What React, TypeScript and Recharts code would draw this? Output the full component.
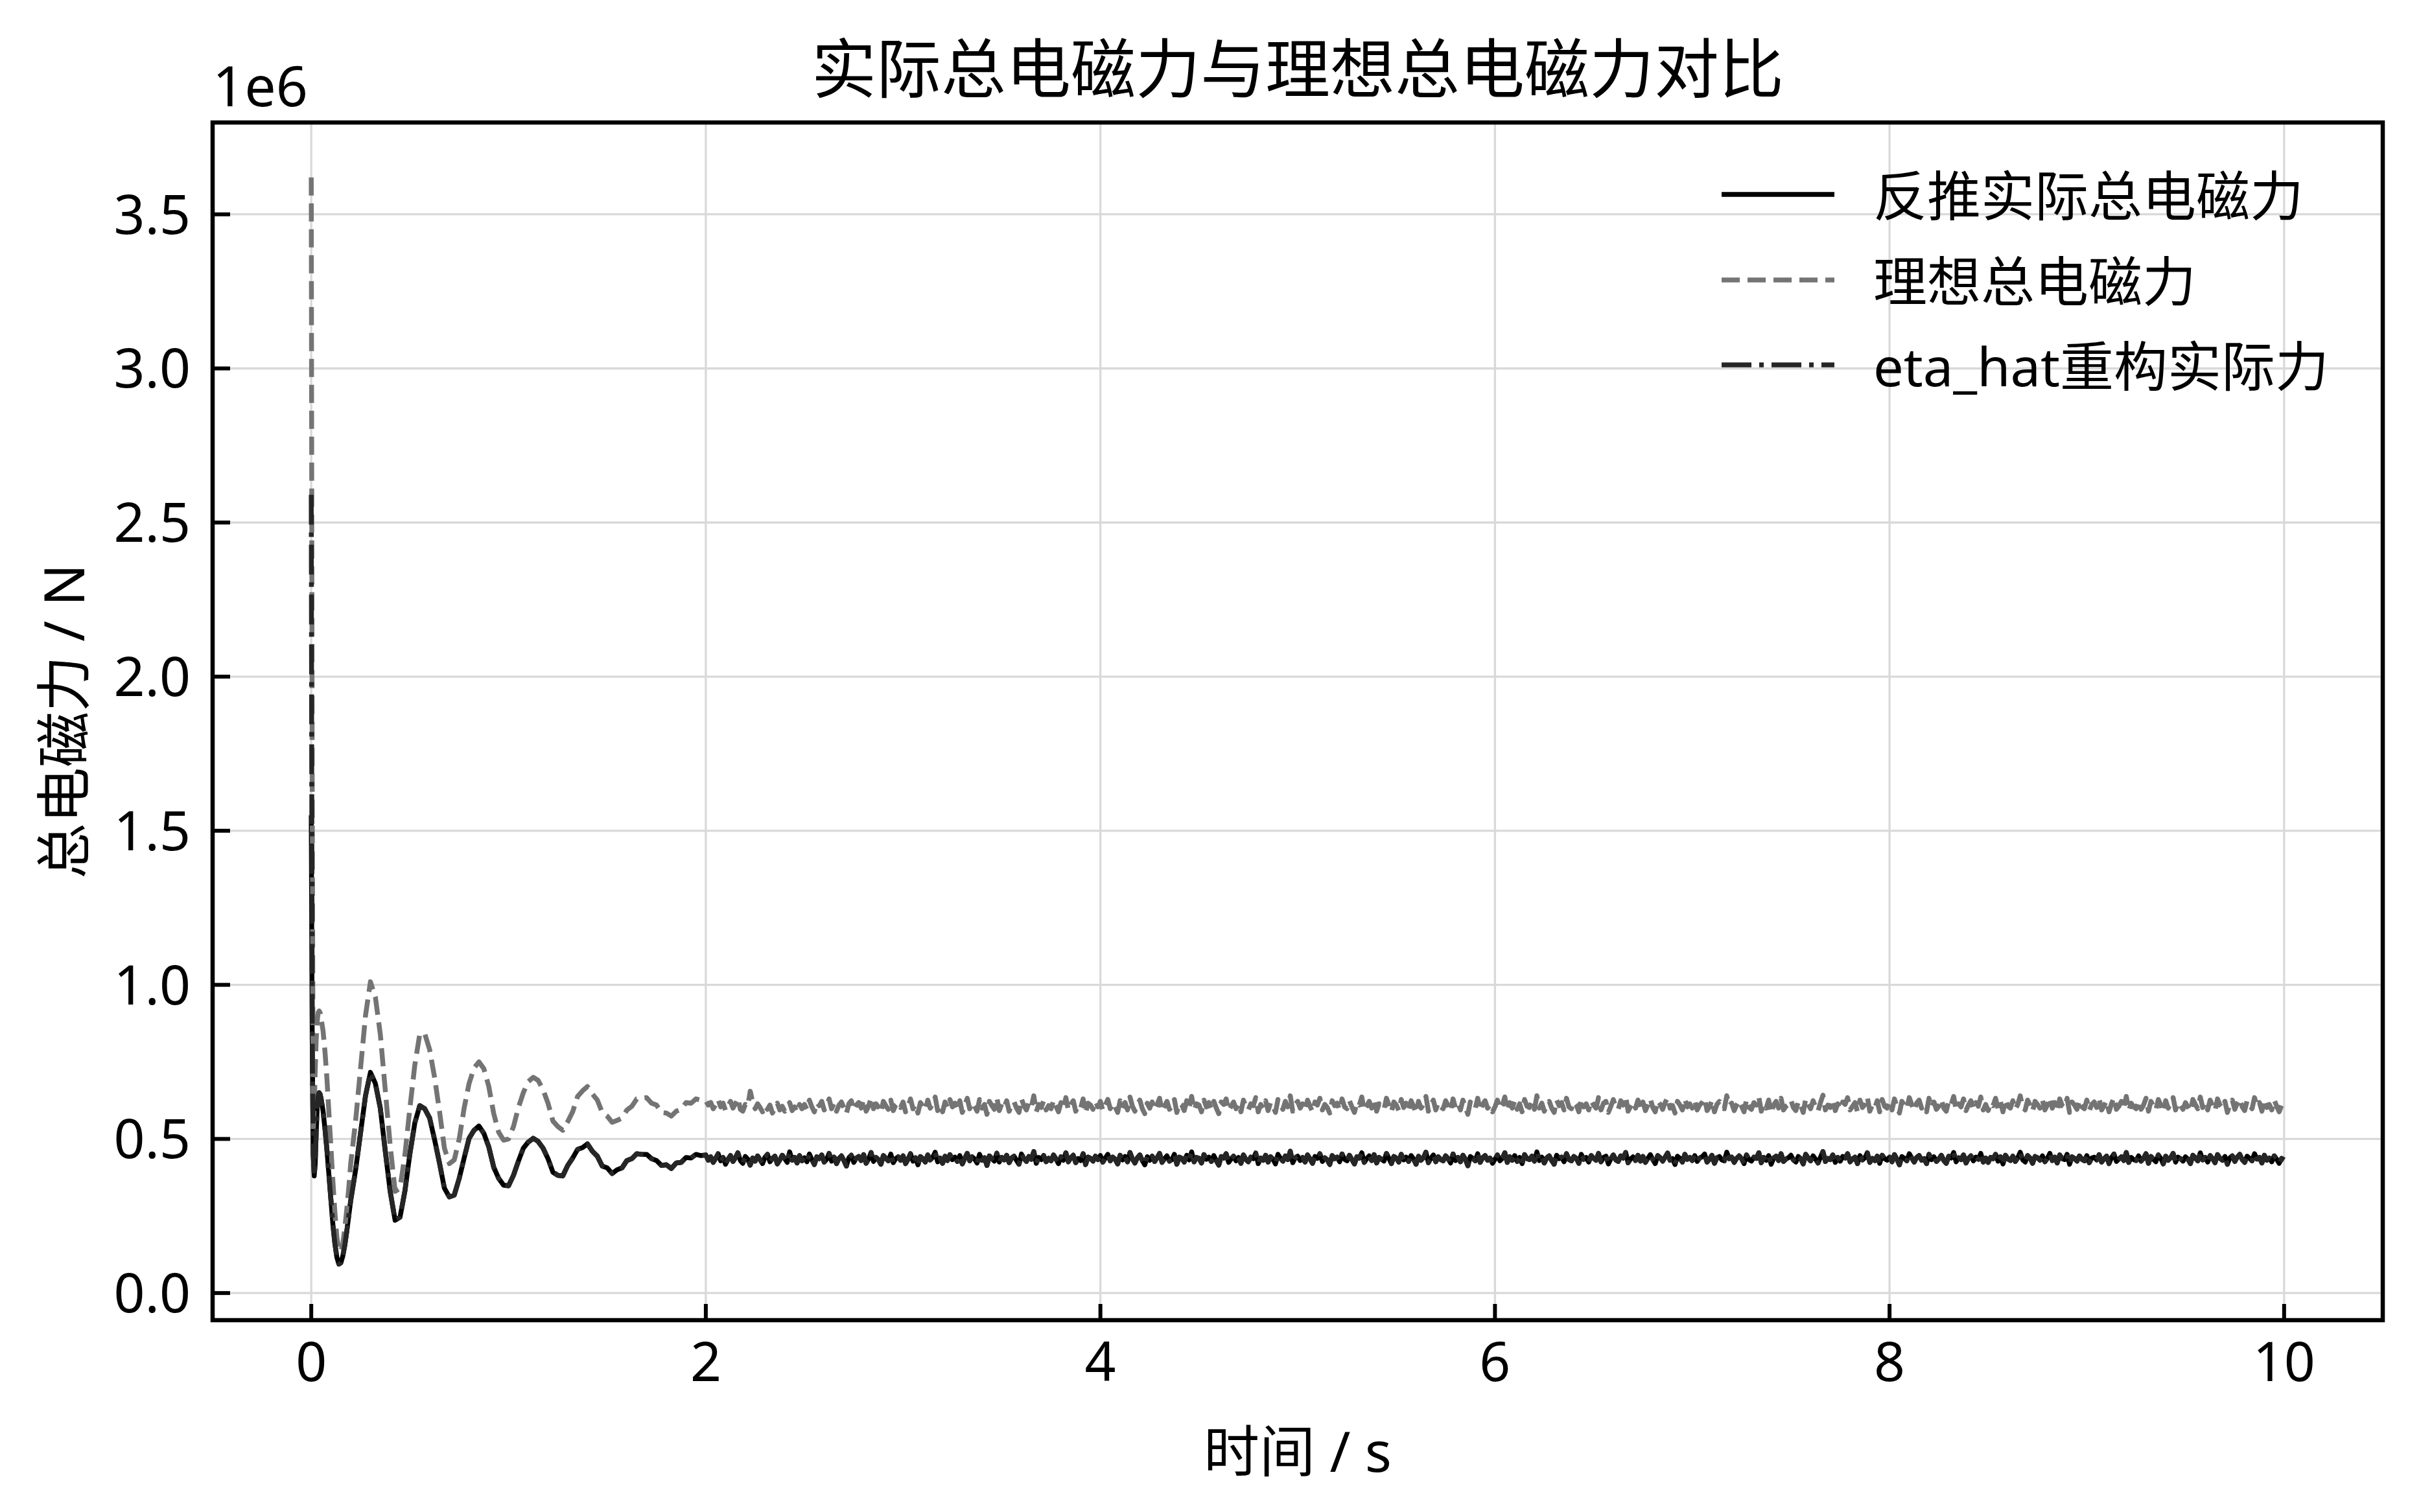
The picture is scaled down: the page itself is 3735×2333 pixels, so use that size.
import { LineChart, Line, XAxis, YAxis, CartesianGrid, ReferenceArea } from "recharts"

const FONT = "'Noto Sans', 'Noto Sans CJK SC', sans-serif"

const chartTitle = "实际总电磁力与理想总电磁力对比"
const xAxisLabel = "时间 / s"
const yAxisLabel = "总电磁力 / N"
const yScaleLabel = "1e6"

const xTicks = [0, 2, 4, 6, 8, 10]
const yTicks = [0, 0.5, 1, 1.5, 2, 2.5, 3, 3.5]
const xDomain = [-0.5, 10.5]
const yDomain = [-0.088, 3.798]

// first 0.2 s, read finer around the switch-on spike (values in kN)
const startupTime = [
  0, 0.005, 0.01, 0.015, 0.02, 0.025, 0.03, 0.035, 0.04, 0.045, 0.05, 0.06, 0.07,
  0.08, 0.09, 0.1, 0.11, 0.12, 0.13, 0.14, 0.15, 0.16, 0.17, 0.18, 0.19,
]
const actualStartup = [
  1550, 820, 450, 380, 420, 520, 600, 640, 650, 645, 630, 590, 530,
  460, 380, 300, 220, 160, 115, 94, 98, 120, 155, 200, 250,
]
const idealStartup = [
  3620, 1600, 520, 600, 720, 820, 880, 910, 915, 910, 890, 850, 780,
  690, 580, 470, 360, 260, 180, 140, 135, 160, 210, 270, 340,
]
const etaHatStartup = [
  2590, 820, 450, 380, 420, 520, 600, 640, 650, 645, 630, 590, 530,
  460, 380, 300, 220, 160, 115, 94, 98, 120, 155, 200, 250,
]

// damped swing, 0.2 s to 1.975 s, one reading every 25 ms (kN)
const rampStart = 0.2
const rampStep = 0.025
const actualRamp = [
  300, 400, 520, 640, 716, 680, 600, 462, 330, 236,
  246, 332, 452, 552, 608, 598, 568, 498, 422, 340,
  312, 318, 372, 438, 502, 528, 542, 518, 474, 408,
  372, 350, 348, 382, 428, 470, 490, 502, 492, 470,
  436, 392, 382, 380, 414, 438, 466, 472, 484, 460,
  444, 412, 406, 388, 400, 406, 430, 436, 452, 450,
  450, 436, 430, 414, 416, 404, 422, 424, 440, 438,
  450, 446,
]
const idealRamp = [
  420, 560, 730, 900, 1010, 960, 840, 660, 480, 330,
  340, 450, 600, 740, 840, 842, 790, 700, 590, 470,
  420, 432, 500, 600, 680, 730, 750, 728, 670, 582,
  522, 496, 500, 540, 602, 650, 686, 700, 690, 660,
  616, 558, 540, 528, 556, 588, 638, 656, 670, 646,
  626, 586, 574, 554, 560, 568, 594, 606, 630, 632,
  634, 616, 610, 586, 584, 574, 590, 596, 618, 616,
  630, 626,
]

// settled, noisy part, 2 s to 10 s, one reading every 12.5 ms (kN)
const steadyStart = 2
const steadyStep = 0.0125
const actualSteady = [
  448, 431, 442, 424, 437, 452, 429, 440, 418, 434, 446, 427, 439, 455, 430, 421, 443, 435, 415, 438,
  428, 445, 433, 420, 441, 450, 426, 437, 444, 419, 432, 447, 436, 424, 458, 431, 440, 422, 446, 429,
  439, 426, 451, 433, 417, 442, 436, 448, 425, 434, 453, 428, 441, 420, 437, 445, 430, 412, 439, 447,
  424, 438, 443, 430, 449, 421, 435, 456, 427, 440, 433, 418, 446, 437, 429, 451, 423, 436, 442, 431,
  445, 420, 434, 452, 428, 439, 416, 443, 436, 425, 448, 432, 440, 457, 426, 438, 421, 444, 430, 449,
  433, 441, 427, 446, 419, 437, 453, 429, 442, 435, 422, 450, 431, 439, 414, 445, 436, 428, 454, 425,
  440, 432, 447, 423, 438, 444, 430, 418, 451, 436, 427, 443, 434, 459, 421, 440, 433, 446, 426, 437,
  429, 448, 435, 420, 442, 431, 455, 426, 439, 447, 423, 436, 430, 452, 417, 441, 437, 428, 444, 433,
  446, 425, 438, 450, 429, 441, 434, 419, 447, 432, 443, 426, 456, 435, 422, 439, 448, 430, 416, 442,
  431, 444, 427, 439, 453, 424, 436, 445, 428, 433, 450, 418, 441, 437, 425, 447, 432, 458, 426, 440,
  437, 422, 449, 434, 441, 427, 446, 430, 415, 443, 438, 452, 424, 435, 444, 429, 440, 421, 448, 433,
  426, 441, 436, 454, 420, 438, 431, 447, 425, 442, 434, 419, 450, 437, 428, 445, 433, 460, 423, 439,
  444, 430, 440, 425, 448, 435, 421, 443, 437, 452, 427, 439, 432, 417, 446, 436, 441, 426, 451, 434,
  429, 447, 433, 419, 442, 438, 455, 424, 436, 445, 430, 449, 422, 440, 434, 428, 453, 437, 420, 443,
  438, 425, 450, 432, 441, 427, 446, 435, 418, 444, 431, 439, 457, 423, 437, 448, 426, 442, 433, 429,
  445, 436, 422, 451, 430, 440, 426, 447, 434, 413, 443, 437, 429, 452, 424, 439, 446, 431, 438, 421,
  434, 448, 429, 437, 455, 424, 442, 431, 446, 427, 440, 420, 449, 436, 433, 444, 428, 458, 430, 441,
  422, 439, 445, 430, 418, 447, 436, 441, 426, 452, 433, 429, 443, 437, 421, 450, 434, 440, 425, 446,
  437, 431, 453, 426, 440, 444, 419, 436, 448, 432, 427, 445, 438, 456, 423, 435, 442, 430, 447, 428,
  443, 424, 437, 449, 433, 420, 446, 439, 428, 441, 454, 431, 436, 417, 444, 437, 425, 450, 434, 440,
  430, 446, 427, 438, 442, 451, 425, 434, 447, 421, 439, 443, 432, 429, 457, 436, 441, 424, 437, 445,
  436, 420, 448, 433, 428, 441, 437, 455, 423, 440, 431, 446, 418, 438, 444, 430, 452, 427, 435, 439,
  447, 432, 425, 443, 436, 419, 450, 438, 429, 445, 434, 422, 441, 459, 427, 437, 433, 448, 424, 440,
  428, 443, 438, 452, 426, 435, 441, 420, 446, 432, 439, 455, 424, 437, 430, 444, 421, 447, 436, 431,
  441, 426, 449, 434, 416, 443, 437, 429, 452, 438, 425, 440, 446, 431, 436, 420, 450, 433, 442, 427,
  435, 447, 430, 421, 444, 438, 456, 426, 439, 433, 448, 422, 437, 445, 429, 441, 434, 453, 425, 438,
  424, 440, 436, 450, 428, 442, 419, 447, 435, 430, 444, 427, 439, 457, 432, 425, 446, 438, 421, 443,
  439, 431, 445, 426, 437, 453, 430, 441, 422, 448, 436, 433, 450, 418, 442, 437, 428, 445, 434, 429,
  446, 423, 438, 441, 432, 449, 425, 436, 444, 420, 439, 451, 427, 435, 442, 430, 456, 424, 440, 433,
  430, 445, 428, 437, 452, 421, 443, 434, 426, 448, 437, 419, 444, 431, 439, 453, 425, 441, 436, 428,
  442, 434, 420, 447, 438, 429, 455, 432, 440, 425, 446, 436, 423, 449, 437, 431, 443, 418, 439, 445,
  427, 441, 450, 433, 424, 444, 437, 429, 452, 435, 440, 422, 447, 431, 438, 426, 445, 434, 421, 437,
  432,
]
const idealSteady = [
  624, 610, 618, 598, 612, 628, 604, 616, 592, 606, 622, 600, 614, 632, 596, 590, 612, 606, 655, 620,
  598, 614, 602, 588, 608, 596, 610, 584, 600, 616, 594, 606, 590, 602, 618, 592, 604, 586, 612, 598,
  612, 596, 626, 604, 588, 618, 608, 622, 594, 606, 630, 598, 616, 590, 610, 620, 600, 582, 614, 624,
  594, 610, 618, 600, 628, 590, 606, 634, 598, 614, 604, 586, 622, 608, 596, 626, 592, 610, 618, 602,
  620, 588, 604, 630, 598, 612, 584, 618, 606, 594, 626, 600, 614, 636, 592, 610, 588, 620, 602, 628,
  604, 616, 596, 624, 586, 608, 632, 598, 618, 606, 590, 628, 600, 612, 580, 622, 608, 596, 634, 592,
  614, 602, 624, 590, 610, 620, 600, 586, 630, 608, 594, 618, 604, 640, 588, 612, 602, 624, 594, 608,
  598, 626, 606, 588, 618, 600, 634, 594, 612, 624, 590, 608, 600, 630, 584, 616, 610, 596, 622, 604,
  622, 592, 610, 628, 598, 616, 604, 586, 624, 600, 618, 594, 636, 606, 590, 612, 626, 598, 582, 616,
  600, 620, 594, 612, 632, 590, 606, 622, 596, 604, 628, 586, 616, 610, 592, 624, 602, 638, 594, 614,
  610, 588, 626, 604, 618, 596, 622, 600, 582, 620, 612, 630, 592, 606, 620, 598, 614, 588, 626, 604,
  594, 614, 608, 634, 588, 612, 600, 624, 592, 618, 606, 586, 628, 610, 596, 622, 604, 640, 590, 612,
  622, 600, 614, 592, 626, 606, 588, 620, 610, 632, 594, 612, 602, 584, 624, 608, 616, 594, 630, 604,
  598, 624, 604, 586, 618, 610, 636, 592, 606, 622, 600, 628, 590, 614, 606, 596, 632, 610, 588, 620,
  610, 592, 628, 602, 616, 594, 624, 606, 584, 622, 600, 612, 638, 590, 610, 626, 594, 618, 604, 598,
  624, 608, 590, 630, 600, 614, 594, 626, 604, 580, 620, 610, 598, 632, 592, 612, 624, 600, 610, 588,
  604, 626, 598, 610, 636, 592, 618, 600, 624, 596, 614, 588, 628, 606, 602, 620, 596, 640, 600, 616,
  590, 612, 622, 600, 586, 626, 608, 618, 594, 632, 604, 598, 620, 610, 588, 630, 604, 614, 594, 624,
  610, 600, 634, 594, 616, 622, 586, 606, 628, 602, 596, 624, 610, 638, 590, 606, 620, 600, 626, 596,
  620, 592, 610, 630, 602, 588, 624, 612, 596, 618, 634, 600, 608, 584, 622, 610, 594, 630, 604, 614,
  600, 626, 594, 610, 618, 632, 592, 604, 626, 588, 612, 622, 600, 598, 640, 608, 616, 592, 610, 624,
  606, 588, 628, 602, 596, 618, 610, 636, 590, 614, 600, 626, 584, 610, 622, 600, 632, 594, 606, 612,
  626, 602, 592, 622, 608, 586, 630, 612, 598, 624, 604, 590, 618, 642, 594, 610, 602, 628, 592, 614,
  596, 620, 612, 634, 594, 606, 618, 588, 626, 602, 612, 636, 590, 610, 600, 624, 588, 628, 606, 600,
  618, 594, 630, 604, 584, 622, 610, 598, 634, 612, 592, 616, 626, 600, 608, 588, 632, 602, 620, 596,
  606, 628, 600, 590, 624, 612, 638, 594, 614, 604, 630, 592, 610, 624, 598, 618, 606, 636, 594, 612,
  592, 616, 608, 632, 598, 620, 588, 628, 606, 600, 624, 596, 612, 640, 602, 594, 626, 610, 590, 622,
  612, 600, 626, 594, 610, 634, 600, 618, 590, 630, 608, 602, 632, 586, 620, 610, 596, 626, 604, 598,
  626, 592, 612, 620, 602, 630, 594, 608, 624, 588, 614, 634, 596, 606, 622, 600, 638, 592, 616, 604,
  598, 624, 596, 610, 632, 590, 622, 606, 594, 628, 610, 588, 624, 600, 614, 634, 594, 618, 608, 596,
  618, 604, 590, 628, 612, 598, 636, 602, 618, 594, 626, 608, 592, 630, 610, 600, 622, 586, 612, 626,
  596, 616, 630, 604, 592, 624, 610, 598, 634, 606, 618, 590, 628, 602, 612, 594, 626, 606, 588, 610,
  602,
]

const series = [
  { key: "actual", name: "反推实际总电磁力", color: "#000000", width: 7.5, dash: undefined },
  { key: "ideal", name: "理想总电磁力", color: "#747474", width: 7.5, dash: "28 12" },
  { key: "etaHat", name: "eta_hat重构实际力", color: "#262626", width: 7.5, dash: "46 12 7 12" },
]

// plotted in units of 1e6 N; after the spike the eta_hat reconstruction sits on the back-calculated force
const toRow = (t: number, actual: number, ideal: number, etaHat: number) => ({
  t,
  actual: actual / 1000,
  ideal: ideal / 1000,
  etaHat: etaHat / 1000,
})

const chartData = [
  ...startupTime.map((t, i) => toRow(t, actualStartup[i], idealStartup[i], etaHatStartup[i])),
  ...actualRamp.map((v, i) => toRow(+(rampStart + i * rampStep).toFixed(4), v, idealRamp[i], v)),
  ...actualSteady.map((v, i) => toRow(+(steadyStart + i * steadyStep).toFixed(4), v, idealSteady[i], v)),
]

const XTick = ({ x, y, payload }: any) => (
  <g>
    <line x1={x} x2={x} y1={y} y2={y - 25} stroke="#000" strokeWidth={6} />
    <text x={x} y={y + 94} textAnchor="middle" fontSize={84} fontFamily={FONT} fill="#000">
      {payload.value}
    </text>
  </g>
)

const YTick = ({ x, y, payload }: any) => (
  <g>
    <line x1={x} x2={x + 27} y1={y} y2={y} stroke="#000" strokeWidth={6} />
    <text x={x - 34} y={y + 30} textAnchor="end" fontSize={84} fontFamily={FONT} fill="#000">
      {Number(payload.value).toFixed(1)}
    </text>
  </g>
)

const legendRows = [300, 432, 563]

export default function App() {
  return (
    <div style={{ position: "fixed", left: 0, top: 0, width: 3735, height: 2333, background: "#fff", overflow: "hidden" }}>
      <LineChart width={3735} height={2333} data={chartData} margin={{ top: 189, right: 59, bottom: 146, left: 128 }}>
        <CartesianGrid stroke="#d9d9d9" strokeWidth={3.3} />
        <XAxis
          type="number"
          dataKey="t"
          domain={xDomain}
          ticks={xTicks}
          allowDataOverflow
          interval={0}
          height={150}
          axisLine={false}
          tickLine={false}
          tickSize={0}
          tickMargin={0}
          tick={(p: any) => <XTick {...p} />}
        />
        <YAxis
          type="number"
          domain={yDomain}
          ticks={yTicks}
          allowDataOverflow
          interval={0}
          width={200}
          axisLine={false}
          tickLine={false}
          tickSize={0}
          tickMargin={0}
          tick={(p: any) => <YTick {...p} />}
        />
        <ReferenceArea
          x1={xDomain[0]}
          x2={xDomain[1]}
          y1={yDomain[0]}
          y2={yDomain[1]}
          fill="none"
          fillOpacity={0}
          stroke="#000"
          strokeWidth={6.5}
          ifOverflow="visible"
        />
        {series.map((s) => (
          <Line
            key={s.key}
            type="linear"
            dataKey={s.key}
            name={s.name}
            stroke={s.color}
            strokeWidth={s.width}
            strokeDasharray={s.dash}
            strokeLinejoin="round"
            dot={false}
            activeDot={false}
            isAnimationActive={false}
          />
        ))}
      </LineChart>
      <svg
        width={3735}
        height={2333}
        style={{ position: "absolute", left: 0, top: 0, pointerEvents: "none" }}
        fontFamily={FONT}
      >
        <text x={2002} y={143} textAnchor="middle" fontSize={100} fill="#000">
          {chartTitle}
        </text>
        <text x={328} y={164} fontSize={86} fill="#000">
          {yScaleLabel}
        </text>
        <text x={2002} y={2271} textAnchor="middle" fontSize={86} fill="#000">
          {xAxisLabel}
        </text>
        <text transform="translate(130,1113) rotate(-90)" textAnchor="middle" fontSize={86} fill="#000">
          {yAxisLabel}
        </text>
        {series.map((s, i) => (
          <g key={s.key}>
            <line
              x1={2656}
              x2={2830}
              y1={legendRows[i]}
              y2={legendRows[i]}
              stroke={s.color}
              strokeWidth={s.width}
              strokeDasharray={s.dash}
            />
            <text x={2890} y={legendRows[i]} dominantBaseline="central" fontSize={83} fill="#000">
              {s.name}
            </text>
          </g>
        ))}
      </svg>
    </div>
  )
}
